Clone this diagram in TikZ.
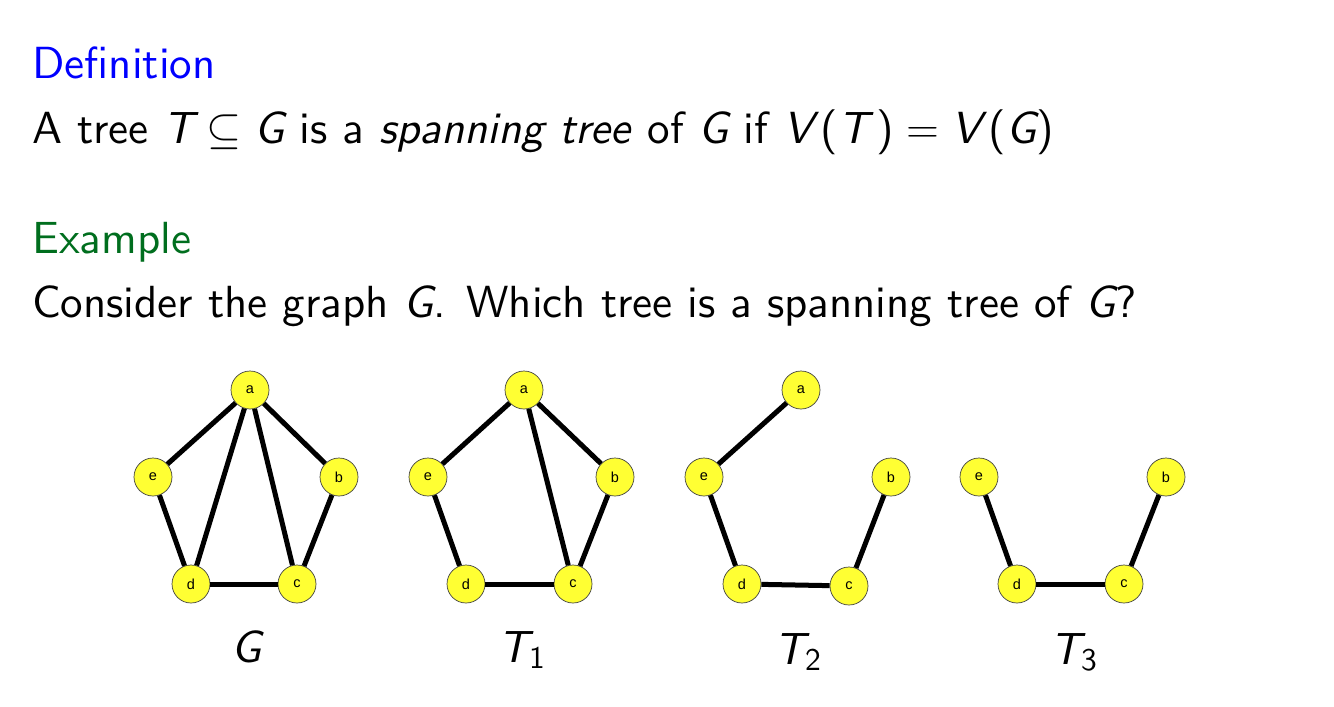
\RequirePackage{fix-cm}
\documentclass[tikz,border=0pt]{standalone}
\usepackage{amsmath,amssymb}
\usepackage{fontspec}
\setsansfont{lmsans10-regular.otf}[ItalicFont=lmsans10-oblique.otf,BoldFont=lmsans10-bold.otf]
\newfontfamily\nodefont{Liberation Sans}
\definecolor{defblue}{RGB}{0,0,255}
\definecolor{exgreen}{RGB}{0,110,30}
\definecolor{nodeyellow}{RGB}{255,255,51}
\newcommand{\mvar}[1]{\textsf{\itshape #1}}
\newcommand{\sop}{\textsf{(}}
\newcommand{\scl}{\textsf{)}}
\begin{document}
\begin{tikzpicture}[x=1pt,y=-1pt,
  txt/.style={anchor=base west,inner sep=0pt,font=\fontsize{45}{54}\selectfont\sffamily},
  lbl/.style={anchor=base,inner sep=0pt,font=\fontsize{45}{54}\selectfont\sffamily},
  vtx/.style={circle,draw=black!75,line width=0.7pt,fill=nodeyellow,minimum size=38pt,inner sep=0pt,font=\nodefont\fontsize{14.5}{14.5}\selectfont},
  edge/.style={line width=5pt,black}]
\fill[white] (0,0) rectangle (1334,707);
\useasboundingbox (0,0) rectangle (1334,707);
\node[txt,text=defblue] (def) at (32,78) {Definition};
\node[txt] (line1) at (32,143) {A tree $\mvar{T} \subseteq \mvar{G}$ is a \textit{spanning tree} of $\mvar{G}$ if $\mvar{V}\,\sop\mvar{T}\,\scl = \mvar{V}\,\sop\mvar{G}\scl$};
\node[txt,text=exgreen] (ex) at (32,253) {Example};
\node[txt] (line2) at (32,317) {Consider the graph $\mvar{G}$. Which tree is a spanning tree of $\mvar{G}$?};
% G
\node[vtx] (ga) at (250,390) {a};
\node[vtx] (ge) at (153,477) {e};
\node[vtx] (gb) at (339,477) {b};
\node[vtx] (gd) at (191,584) {d};
\node[vtx] (gc) at (297,584) {c};
\draw[edge] (ga) -- (ge);
\draw[edge] (ga) -- (gb);
\draw[edge] (ga) -- (gd);
\draw[edge] (ga) -- (gc);
\draw[edge] (ge) -- (gd);
\draw[edge] (gb) -- (gc);
\draw[edge] (gd) -- (gc);
% T1
\node[vtx] (aa) at (524,390) {a};
\node[vtx] (ae) at (428,477) {e};
\node[vtx] (ab) at (615,477) {b};
\node[vtx] (ad) at (466,584) {d};
\node[vtx] (ac) at (573,584) {c};
\draw[edge] (aa) -- (ae);
\draw[edge] (aa) -- (ab);
\draw[edge] (aa) -- (ac);
\draw[edge] (ae) -- (ad);
\draw[edge] (ab) -- (ac);
\draw[edge] (ad) -- (ac);
% T2
\node[vtx] (ba) at (801,390) {a};
\node[vtx] (be) at (704,477) {e};
\node[vtx] (bb) at (891,477) {b};
\node[vtx] (bd) at (742,584) {d};
\node[vtx] (bc) at (849,586) {c};
\draw[edge] (ba) -- (be);
\draw[edge] (be) -- (bd);
\draw[edge] (bb) -- (bc);
\draw[edge] (bd) -- (bc);
% T3
\node[vtx] (ce) at (979,477) {e};
\node[vtx] (cb) at (1166,477) {b};
\node[vtx] (cd) at (1017,584) {d};
\node[vtx] (cc) at (1124,584) {c};
\draw[edge] (ce) -- (cd);
\draw[edge] (cb) -- (cc);
\draw[edge] (cd) -- (cc);
% labels
\node[lbl] (lg) at (247,662) {$\mvar{G}$};
\node[lbl] (l1) at (522,662) {$\mvar{T}_{\textsf{1}}$};
\node[lbl] (l2) at (798,664) {$\mvar{T}_{\textsf{2}}$};
\node[lbl] (l3) at (1074,664) {$\mvar{T}_{\textsf{3}}$};
\end{tikzpicture}
\end{document}
